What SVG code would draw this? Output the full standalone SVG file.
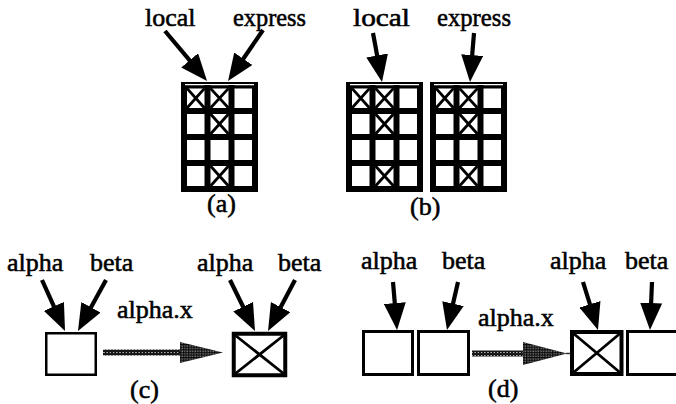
<svg xmlns="http://www.w3.org/2000/svg" xmlns:xlink="http://www.w3.org/1999/xlink" width="676" height="404" viewBox="0 0 676 404">
  <style>
    text { font-family: "Liberation Serif", "Times New Roman", serif; font-size: 26px; fill: #000; stroke: #000; stroke-width: 0.55px; }
    .ptr { stroke: #000; stroke-width: 4.2; fill: none; marker-end: url(#head); }
    .gridline { stroke: #000; stroke-width: 6; fill: none; }
    .mark { stroke: #000; stroke-width: 2.8; }
    .cell { fill: #fff; stroke: #000; stroke-width: 3; }
    .cell-thick { fill: #fff; stroke: #000; stroke-width: 4; }
    .cross { stroke: #000; stroke-width: 2.8; }
  </style>
  <defs>
    <marker id="head" markerUnits="userSpaceOnUse" markerWidth="27" markerHeight="22" refX="17" refY="11" orient="auto">
      <path d="M0,0 L27,11 L0,22 z" fill="#000"/>
    </marker>
    <pattern id="beads" width="3.2" height="3" patternUnits="userSpaceOnUse">
      <circle cx="1.6" cy="1.5" r="1.25" fill="#fff" stroke="#000" stroke-width="1.2"/>
    </pattern>
    <pattern id="stipple" width="2.6" height="2.6" patternUnits="userSpaceOnUse">
      <rect width="2.6" height="2.6" fill="#555"/>
      <circle cx="1.3" cy="1.3" r="1.1" fill="#000"/>
      <circle cx="0.4" cy="0.4" r="0.35" fill="#fff"/>
    </pattern>
    <!-- 3x4 table of slots; crossed slots are occupied -->
    <g id="table">
      <rect x="3" y="3" width="71" height="104" class="gridline"/>
      <line x1="0" y1="3.2" x2="77" y2="3.2" stroke="#000" stroke-width="6.4"/>
      <line x1="4" y1="2.6" x2="73" y2="2.6" stroke="#fff" stroke-width="1.2"/>
      <line x1="26.5" y1="3" x2="26.5" y2="107" class="gridline"/>
      <line x1="50.5" y1="3" x2="50.5" y2="107" class="gridline"/>
      <line x1="3" y1="29" x2="74" y2="29" class="gridline"/>
      <line x1="3" y1="55" x2="74" y2="55" class="gridline"/>
      <line x1="3" y1="81" x2="74" y2="81" class="gridline"/>
      <!-- row 0, col 0 -->
      <path d="M6,6.4 L23.5,26 M23.5,6.4 L6,26" class="mark"/>
      <!-- row 0, col 1 -->
      <path d="M29.5,6.4 L47.5,26 M47.5,6.4 L29.5,26" class="mark"/>
      <!-- row 1, col 1 -->
      <path d="M29.5,32 L47.5,52 M47.5,32 L29.5,52" class="mark"/>
      <!-- row 3, col 1 -->
      <path d="M29.5,84 L47.5,104 M47.5,84 L29.5,104" class="mark"/>
    </g>
  </defs>

  <rect width="676" height="404" fill="#fff"/>

  <!-- (a) one shared table -->
  <g id="table-a">
    <use xlink:href="#table" href="#table" transform="translate(181,82)"/>
  </g>
  <g id="label-a">
    <text x="145" y="26">local</text>
    <text x="233" y="26" textLength="73" lengthAdjust="spacingAndGlyphs">express</text>
    <text x="207" y="212">(a)</text>
  </g>

  <!-- (b) separate tables -->
  <g id="table-b-local">
    <use xlink:href="#table" href="#table" transform="translate(346,82)"/>
  </g>
  <g id="table-b-express">
    <use xlink:href="#table" href="#table" transform="translate(430,82)"/>
  </g>
  <g id="label-b">
    <text x="353" y="26" textLength="57" lengthAdjust="spacingAndGlyphs">local</text>
    <text x="437" y="26" textLength="74" lengthAdjust="spacingAndGlyphs">express</text>
    <text x="410" y="215">(b)</text>
  </g>

  <!-- (c) shared slot before and after alpha.x -->
  <g id="slot-c-before">
    <rect x="46.25" y="333.25" width="49.5" height="41.5" class="cell" style="stroke-width:2.5"/>
  </g>
  <g id="slot-c-after">
    <rect x="233.75" y="333.75" width="51.5" height="41.5" class="cell-thick"/>
    <path d="M235.5,335.5 L283.5,373.5 M283.5,335.5 L235.5,373.5" class="cross"/>
  </g>
  <g id="label-c">
    <text x="7" y="271">alpha</text>
    <text x="90" y="271">beta</text>
    <text x="197" y="271">alpha</text>
    <text x="278" y="271">beta</text>
    <text x="117" y="318">alpha.x</text>
    <text x="130" y="398">(c)</text>
  </g>

  <!-- (d) separate slots before and after alpha.x -->
  <g id="slot-d-alpha-before">
    <rect x="363.5" y="331.5" width="49" height="43" class="cell"/>
  </g>
  <g id="slot-d-beta-before">
    <rect x="418.5" y="331.5" width="50" height="43" class="cell"/>
  </g>
  <g id="slot-d-alpha-after">
    <rect x="572" y="332" width="49.5" height="42" class="cell-thick"/>
    <path d="M573.5,333.5 L620,372.5 M620,333.5 L573.5,372.5" class="cross"/>
  </g>
  <g id="slot-d-beta-after">
    <rect x="627.5" y="331.5" width="60" height="43" class="cell"/>
  </g>
  <g id="label-d">
    <text x="361" y="269">alpha</text>
    <text x="442" y="269">beta</text>
    <text x="550" y="269">alpha</text>
    <text x="625" y="269">beta</text>
    <text x="478" y="326">alpha.x</text>
    <text x="488" y="397">(d)</text>
  </g>

  <!-- pointers and transitions -->
  <g id="connectors">
    <line x1="165" y1="31" x2="200.6" y2="73.3" class="ptr"/>
    <line x1="263" y1="30" x2="233.7" y2="72.8" class="ptr"/>
    <line x1="373" y1="33" x2="380.2" y2="72.2" class="ptr"/>
    <line x1="474" y1="33" x2="470.8" y2="72" class="ptr"/>

    <line x1="42" y1="280" x2="60.9" y2="321.9" class="ptr"/>
    <line x1="106" y1="280" x2="82.8" y2="322.2" class="ptr"/>
    <line x1="230" y1="280" x2="250.6" y2="322" class="ptr"/>
    <line x1="295" y1="280" x2="272.7" y2="322.2" class="ptr"/>

    <line x1="393" y1="282" x2="396.2" y2="320" class="ptr"/>
    <line x1="458" y1="282" x2="449.2" y2="320.2" class="ptr"/>
    <line x1="583" y1="282" x2="595" y2="320.5" class="ptr"/>
    <line x1="652" y1="282" x2="650.4" y2="320" class="ptr"/>

    <!-- alpha.x transition (c) -->
    <rect x="103" y="349.5" width="78" height="6" fill="url(#beads)"/>
    <polygon points="180,342 223,352.5 180,363" fill="url(#stipple)"/>
    <!-- alpha.x transition (d) -->
    <rect x="472" y="350.5" width="52" height="6" fill="url(#beads)"/>
    <polygon points="523,342 567,353.5 523,365" fill="url(#stipple)"/>
    <line x1="566" y1="353.5" x2="570" y2="353.5" stroke="#333" stroke-width="1.5"/>
  </g>
</svg>
